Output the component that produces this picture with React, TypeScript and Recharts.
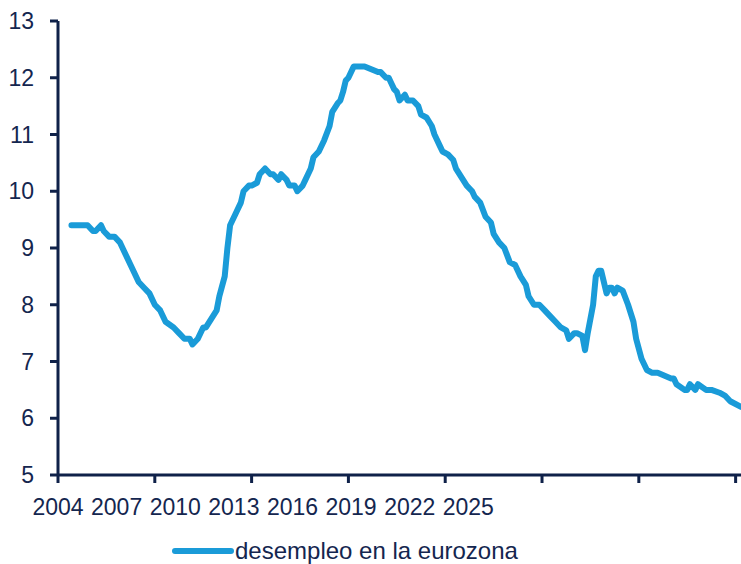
import React from "react";
import { LineChart, Line, XAxis, YAxis, Legend } from "recharts";

// Months elapsed since January 2004
const monthIndex = [
  5, 11, 13, 14, 16, 17, 19, 21, 23, 24, 27, 30, 32, 34, 36, 38, 40, 43, 45, 47, 49, 50, 52,
  54, 55, 57, 59, 60, 62, 63, 64, 66, 68, 69, 71, 72, 74, 75, 77, 79, 80, 82, 83, 85, 86, 88,
  89, 91, 92, 94, 95, 97, 99, 101, 102, 104, 105, 106, 107, 108, 110, 113, 114, 119, 120, 122,
  123, 124, 125, 126, 127, 129, 130, 132, 134, 135, 137, 139, 140, 142, 143, 145, 147, 148,
  150, 152, 154, 155, 157, 159, 161, 162, 164, 166, 168, 170, 172, 174, 175, 177, 179, 181,
  183, 185, 187, 189, 190, 192, 193, 195, 196, 197, 199, 200, 201, 202, 203, 204, 205, 206,
  207, 208, 210, 212, 214, 215, 217, 219, 221, 223, 228, 229, 230, 233, 234, 235, 237, 238,
  241, 243, 246, 248, 250, 254,
];

// Euro area unemployment rate, %
const unemployment = [
  9.4, 9.4, 9.3, 9.3, 9.4, 9.3, 9.2, 9.2, 9.1, 9.0, 8.7, 8.4, 8.3, 8.2, 8.0, 7.9, 7.7, 7.6, 7.5,
  7.4, 7.4, 7.3, 7.4, 7.6, 7.6, 7.75, 7.9, 8.15, 8.5, 9.0, 9.4, 9.6, 9.8, 10.0, 10.1, 10.1,
  10.15, 10.3, 10.4, 10.3, 10.3, 10.2, 10.3, 10.2, 10.1, 10.1, 10.0, 10.1, 10.2, 10.4, 10.6,
  10.7, 10.9, 11.15, 11.4, 11.55, 11.6, 11.75, 11.95, 12.0, 12.2, 12.2, 12.2, 12.1, 12.1, 12.0,
  12.0, 11.9, 11.8, 11.75, 11.6, 11.7, 11.6, 11.6, 11.5, 11.35, 11.3, 11.15, 11.0, 10.8, 10.7,
  10.65, 10.55, 10.4, 10.25, 10.1, 10.0, 9.9, 9.8, 9.55, 9.45, 9.25, 9.1, 9.0, 8.75, 8.7, 8.5,
  8.35, 8.15, 8.0, 8.0, 7.9, 7.8, 7.7, 7.6, 7.55, 7.4, 7.5, 7.5, 7.45, 7.2, 7.5, 8.0, 8.5, 8.6,
  8.6, 8.4, 8.2, 8.3, 8.3, 8.2, 8.3, 8.25, 8.0, 7.7, 7.4, 7.05, 6.85, 6.8, 6.8, 6.7, 6.7, 6.6,
  6.5, 6.5, 6.6, 6.5, 6.6, 6.5, 6.5, 6.45, 6.4, 6.3, 6.2, 6.2,
];

// Tick marks every three years, January 2004 to January 2025
const tickMonths = [0, 36, 72, 108, 144, 180, 216, 252];
const yearLabels = ["2004", "2007", "2010", "2013", "2016", "2019", "2022", "2025"];
const yTicks = [5, 6, 7, 8, 9, 10, 11, 12, 13];
const seriesName = "desempleo en la eurozona";

const data = monthIndex.map((m, i) => ({ m, v: unemployment[i] }));

const X_DOMAIN: [number, number] = [0, 254];

const NAVY = "#0f2149";
const TEXT = "#14264f";
const BLUE = "#1a9bd8";
const FONT = "'Liberation Sans', Arial, sans-serif";
const FONT_SIZE = 23;

// Year labels run one after another along the baseline, packed tighter than the tick marks
const LABEL_STEP = 21.8;
const labelPositions = yearLabels.map((_, i) => i * LABEL_STEP);

const LegendContent = () => (
  <div style={{ display: "flex", alignItems: "center", fontFamily: FONT, fontSize: 24, color: TEXT, whiteSpace: "nowrap" }}>
    <svg width={64} height={12} style={{ display: "block" }}>
      <line x1={4} y1={6} x2={60} y2={6} stroke={BLUE} strokeWidth={6} strokeLinecap="round" />
    </svg>
    <span style={{ lineHeight: "26px" }}>{seriesName}</span>
  </div>
);

export default function App() {
  return (
    <div style={{ position: "absolute", left: 0, top: 0, background: "#fff" }}>
      <LineChart width={741} height={564} data={data} margin={{ top: 21, right: 0, bottom: 29, left: 0 }}>
        <YAxis
          type="number"
          domain={[5, 13]}
          ticks={yTicks}
          interval={0}
          width={58}
          axisLine={{ stroke: NAVY, strokeWidth: 3 }}
          tickLine={{ stroke: NAVY, strokeWidth: 3 }}
          tickSize={8}
          tickMargin={16}
          tick={{ fill: TEXT, fontSize: FONT_SIZE, fontFamily: FONT }}
        />
        <XAxis
          xAxisId="axis"
          dataKey="m"
          type="number"
          domain={X_DOMAIN}
          allowDataOverflow
          ticks={tickMonths}
          interval={0}
          height={10}
          axisLine={{ stroke: NAVY, strokeWidth: 3 }}
          tickLine={{ stroke: NAVY, strokeWidth: 3 }}
          tickSize={8}
          tickFormatter={() => ""}
        />
        <XAxis
          xAxisId="years"
          dataKey="m"
          type="number"
          domain={X_DOMAIN}
          allowDataOverflow
          ticks={labelPositions}
          interval={0}
          height={50}
          axisLine={false}
          tickLine={false}
          tickSize={0}
          tickMargin={14}
          tickFormatter={(_: number, i: number) => yearLabels[i] ?? ""}
          tick={{ fill: TEXT, fontSize: FONT_SIZE, fontFamily: FONT }}
        />
        <Legend
          verticalAlign="middle"
          layout="horizontal"
          content={LegendContent}
          wrapperStyle={{ left: 171, top: 538, width: "auto" }}
        />
        <Line
          xAxisId="axis"
          type="linear"
          dataKey="v"
          name={seriesName}
          stroke={BLUE}
          strokeWidth={6}
          strokeLinejoin="round"
          strokeLinecap="round"
          dot={false}
          activeDot={false}
          isAnimationActive={false}
        />
      </LineChart>
    </div>
  );
}
